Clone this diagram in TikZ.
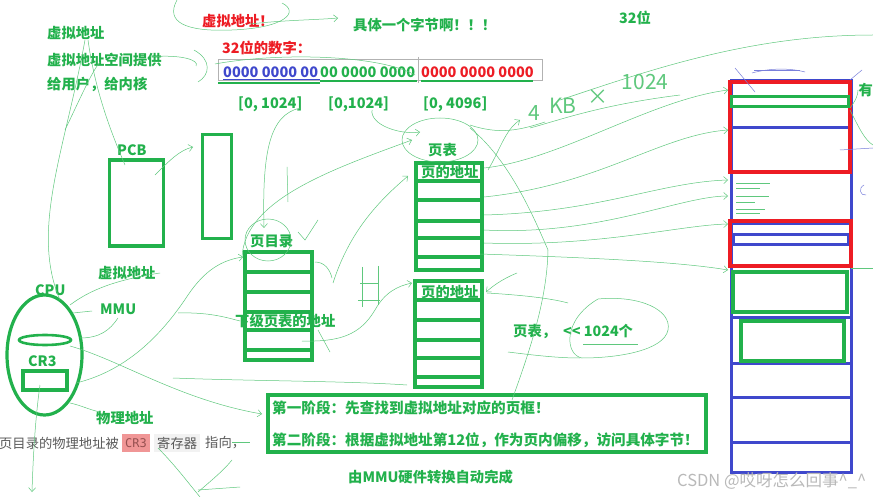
\documentclass[tikz,border=0pt]{standalone}
\usepackage{fontspec}
\setmainfont{Noto Sans CJK SC}
\newfontfamily\cjk{Noto Sans CJK SC}
\newfontfamily\monof{DejaVu Sans Mono}
\usetikzlibrary{arrows.meta}
\definecolor{pg}{RGB}{34,177,76}
\definecolor{pr}{RGB}{237,28,36}
\definecolor{pb}{RGB}{63,72,204}
\definecolor{sg}{RGB}{95,200,125}
\definecolor{wm}{RGB}{185,185,185}
\definecolor{gtx}{RGB}{90,90,90}
\definecolor{crbg}{RGB}{240,150,150}
\definecolor{crtx}{RGB}{150,80,80}
\definecolor{rgbg}{RGB}{242,242,242}
\newcommand\myfb{\cjk\bfseries\fontsize{14.3}{16}\selectfont}
\newcommand\myfd{\cjk\bfseries\fontsize{14.5}{17}\selectfont}
\newcommand\myfs{\cjk\bfseries\fontsize{14.6}{17}\selectfont}
\newcommand\myfh{\cjk\fontsize{21}{23}\selectfont}
\begin{document}
\begin{tikzpicture}[x=1pt,y=-1pt,
  lbl/.style={font=\myfb, text=pg, inner sep=0pt, anchor=west},
  rlbl/.style={lbl, text=pr},
  dig/.style={font=\myfd, inner sep=0pt, anchor=west},
  gbox/.style={draw=pg, line width=3.5pt, inner sep=0pt, outer sep=0pt},
  gline/.style={draw=pg, line width=3.2pt},
  bline/.style={draw=pb, line width=3pt},
  scrib/.style={draw=sg, line width=0.5pt},
  sarr/.style={scrib, -{Straight Barb[length=4pt,width=7pt]}},
  hand/.style={font=\myfh, text=sg, inner sep=0pt},
  bscrib/.style={draw=pb!70, line width=0.5pt}]
\useasboundingbox (0,0) rectangle (873,497);
\clip (0,0) rectangle (873,497);
\fill[white] (0,0) rectangle (873,497);

% ---------- top texts ----------
\node[lbl] (va1) at (47,33) {虚拟地址};
\node[lbl] (va2) at (47,60) {虚拟地址空间提供};
\node[lbl] (va3) at (47,84) {给用户，给内核};
\node[rlbl] (vared) at (202,21) {虚拟地址！};
\node[lbl] (byte) at (353,25) {具体一个字节啊！！！};
\node[lbl] (b32) at (619,18) {32位};
\node[rlbl] (num32) at (222,48) {32位的数字：};

% address box
\draw[draw=gray!60, line width=0.6pt] (218,59) rectangle (542,80);
\draw[draw=gray!60, line width=0.6pt] (418,57) -- (418,83);
\node[dig, text=pb] (d1) at (223,72) {0000 0000 00};
\node[dig, text=pg] (d2) at (320,72) {00 0000 0000};
\node[dig, text=pr] (d3) at (421,72) {0000 0000 0000};
\draw[pb, line width=1pt] (223,80) -- (320,80);
\draw[pg, line width=2.2pt] (218,83) -- (320,83);
\draw[pg, line width=2.2pt] (320,81) -- (417,81);
\draw[pg, line width=2.2pt] (421,81) -- (533,81);
\node[dig, text=pg] (r1) at (238,104) {[0, 1024]};
\node[dig, text=pg] (r2) at (328,104) {[0,1024]};
\node[dig, text=pg] (r3) at (423,104) {[0, 4096]};

% ---------- PCB ----------
\node[lbl] (pcbl) at (117,150) {PCB};
\node[gbox, minimum width=54pt, minimum height=86pt] (pcb) at (136.5,203) {};
\node[gbox, minimum width=29pt, minimum height=104pt] (tall) at (217,186.5) {};

% ---------- page directory ----------
\node[lbl] (pdl) at (250,241) {页目录};
\node[gbox, minimum width=67pt, minimum height=108pt] (pd) at (278.5,306) {};
\foreach \yy in {272,292,312,330,350} \draw[gline] (245,\yy) -- (312,\yy);
\node[lbl] (nextpt) at (235,321) {下级页表的地址};

% ---------- page tables ----------
\node[lbl] (ptl) at (428,150) {页表};
\node[gbox, minimum width=66pt, minimum height=107pt] (pt1) at (449,216.5) {};
\foreach \yy in {181,200,221,238,257} \draw[gline] (416,\yy) -- (482,\yy);
\node[lbl] (pt1h) at (421,172) {页的地址};
\node[gbox, minimum width=67pt, minimum height=106pt] (pt2) at (448.5,334) {};
\foreach \yy in {300,320,340,358,377} \draw[gline] (415,\yy) -- (482,\yy);
\node[lbl] (pt2h) at (421,292) {页的地址};
\node[lbl] (ptc1) at (513,331) {页表，};
\node[lbl] (ptc2) at (563,331) {<< 1024个};

% ---------- bottom box ----------
\node[gbox, minimum width=438pt, minimum height=57pt] (stage) at (487,423.5) {};
\node[lbl, font=\myfs] (s1) at (272,408) {第一阶段：先查找到虚拟地址对应的页框！};
\node[lbl, font=\myfs] (s2) at (272,440) {第二阶段：根据虚拟地址第12位，作为页内偏移，访问具体字节！};
\node[lbl] (mmuauto) at (348,477) {由MMU硬件转换自动完成};

% ---------- CPU ----------
\node[lbl] (cpul) at (35,290) {CPU};
\draw[pg, line width=3.2pt] (44.5,355) ellipse [x radius=37.5, y radius=60];
\draw[pg, line width=2.6pt] (45,340) ellipse [x radius=26, y radius=5];
\node[lbl] (cr3l) at (28,361) {CR3};
\node[gbox, minimum width=44pt, minimum height=19pt] (cr3) at (45,380.5) {};
\node[lbl] (val) at (98,273) {虚拟地址};
\node[lbl] (mmul) at (100,309) {MMU};
\node[lbl] (pal) at (96,418) {物理地址};

% gray sentence
\node[font=\cjk\fontsize{13.3}{15}\selectfont, text=gtx, inner sep=0pt, anchor=west] (gs1) at (-1,443) {页目录的物理地址被};
\node[fill=crbg, text=crtx, font=\monof\fontsize{12}{14}\selectfont, inner xsep=3pt, inner ysep=4pt, anchor=west] (crhl) at (122,443) {CR3};
\node[fill=rgbg, text=gtx, font=\cjk\fontsize{13.3}{15}\selectfont, inner xsep=3pt, inner ysep=3pt, anchor=west] (reg) at (154,443) {寄存器};
\node[font=\cjk\fontsize{13.3}{15}\selectfont, text=gtx, inner sep=0pt, anchor=west] (gs2) at (205,443) {指向，};

% ---------- memory ----------
\node[draw=pb, line width=3pt, minimum width=120pt, minimum height=391pt, inner sep=0pt] (mem) at (791,276.5) {};
\foreach \yy in {128,173,317,363,397,442} \draw[bline] (731,\yy) -- (851,\yy);
\draw[pb, line width=1.8pt] (732,224) -- (849,224);
\draw[bline] (733,235) rectangle (848,245);
\draw[pr, line width=3.5pt] (730,82) rectangle (850,172);
\draw[pg, line width=3pt] (731,97) rectangle (848,107);
\draw[pr, line width=3.5pt] (730,221) rectangle (851,266);
\draw[pg, line width=3.2pt] (733,272) rectangle (847,312);
\draw[pg, line width=3.2pt] (741,321) rectangle (844,361);
\foreach \ya/\xb in {183/770,188/760,196/769,202/755,209/765,213/760} \draw[scrib, line width=0.7pt] (736,\ya) -- (\xb,\ya);
\node[lbl, anchor=east] (you) at (873,90) {有};
\node[font=\cjk\fontsize{16.5}{18}\selectfont, text=wm, inner sep=0pt, anchor=west] (wmk) at (677,481) {CSDN @哎呀怎么回事\^{}\_\^{}};

% blue scribbles near memory
\draw[bscrib] (735,68) -- (755,92);
\draw[bscrib] (752,73) .. controls (770,68) and (790,68) .. (805,72);
\draw[bscrib] (754,70) -- (800,70);
\draw[bscrib] (850,80) -- (862,70);
\draw[bscrib] (840,150) -- (873,148);
\draw[bscrib] (864,185) .. controls (858,188) and (860,196) .. (866,195);

% ---------- hand-drawn scribbles ----------
\draw[scrib] (177,0) .. controls (165,22) and (185,32) .. (232,30) .. controls (285,28) and (300,12) .. (282,3);
\draw[sarr] (250,24) .. controls (285,20) and (315,20) .. (338,18);
\draw[scrib] (150,57) .. controls (180,54) and (200,60) .. (196,66);
\draw[scrib] (194,50) .. controls (212,60) and (210,75) .. (198,82);
\draw[scrib] (215,64) .. controls (280,52) and (380,55) .. (415,75);
\draw[scrib] (85,40) .. controls (65,150) and (30,230) .. (60,300);
\draw[scrib] (88,40) .. controls (95,90) and (110,130) .. (125,165);
\draw[scrib] (100,62) .. controls (92,72) and (85,88) .. (65,130);
\draw[sarr] (155,175) .. controls (170,160) and (180,150) .. (193,147);
\draw[sarr] (300,108) .. controls (270,115) and (262,150) .. (264,228);
\draw[scrib] (268,240) ellipse [x radius=23, y radius=21];
\draw[sarr] (242,257) .. controls (245,200) and (330,170) .. (412,140);
\draw[scrib] (440,140) ellipse [x radius=38, y radius=22];
\draw[sarr] (372,110) .. controls (370,125) and (400,135) .. (420,132);
\draw[sarr] (302,341) .. controls (340,342) and (360,335) .. (375,310) .. controls (385,292) and (398,286) .. (412,283);
\draw[sarr] (333,283) .. controls (350,230) and (380,200) .. (408,176);
\draw[sarr] (76,383) .. controls (130,370) and (165,330) .. (188,295) .. controls (205,270) and (222,260) .. (243,257);
\draw[sarr] (70,346) .. controls (120,360) and (180,400) .. (262,414);
\draw[scrib] (70,305) .. controls (90,290) and (115,280) .. (160,273);
\draw[scrib] (73,313) -- (92,311);
\draw[scrib] (80,338) .. controls (100,338) and (110,330) .. (118,318);
\draw[scrib] (70,403) .. controls (80,405) and (90,410) .. (100,412);
\draw[sarr] (40,385) .. controls (35,420) and (33,460) .. (32,492);
\draw[scrib] (158,448) .. controls (175,465) and (190,485) .. (200,497);
\draw[scrib] (198,492) .. controls (212,480) and (224,470) .. (232,460);
\draw[scrib] (198,490) -- (240,487);
\draw[scrib] (232,442) -- (250,442);
\draw[scrib] (287,167) -- (288,202);
\draw[scrib] (298,232) -- (305,240) -- (318,220);
\draw[scrib] (362,267) -- (362,307) (378,266) -- (378,305) (360,283) -- (378,283) (358,300) -- (380,300);
\draw[scrib] (178,313) .. controls (210,312) and (228,318) .. (240,321);
\draw[scrib] (173,378) .. controls (250,381) and (350,381) .. (407,385);
\draw[scrib] (315,262) .. controls (325,262) and (330,270) .. (332,278);
\draw[scrib] (318,330) -- (330,352);
% right-hand arrows to memory
\draw[sarr] (484,168) .. controls (560,160) and (650,100) .. (728,90);
\draw[sarr] (484,197) .. controls (600,185) and (660,135) .. (728,130);
\draw[sarr] (484,215) .. controls (600,212) and (660,182) .. (728,180);
\draw[sarr] (484,230) .. controls (600,236) and (680,196) .. (728,196);
\draw[sarr] (484,243) .. controls (600,247) and (680,225) .. (728,224);
\draw[sarr] (480,254) .. controls (600,258) and (680,262) .. (728,270);
\draw[sarr] (517,273) .. controls (500,280) and (492,287) .. (486,292);
\draw[scrib] (487,293) .. controls (520,295) and (550,298) .. (568,303);
\draw[scrib] (548,250) .. controls (547,300) and (530,350) .. (512,400);
\draw[scrib] (598,299) .. controls (640,295) and (672,310) .. (668,330) .. controls (664,350) and (620,358) .. (582,358) .. controls (565,355) and (562,320) .. (598,299);
\draw[scrib] (508,352) .. controls (540,356) and (560,358) .. (580,358);
\draw[scrib] (583,344) -- (638,344);
\draw[scrib] (560,100) .. controls (650,70) and (750,35) .. (873,35);
\draw[scrib] (470,125) .. controls (500,135) and (520,130) .. (545,122);
\draw[scrib] (470,128) .. controls (510,160) and (535,220) .. (548,250);
\draw[sarr] (488,170) .. controls (500,150) and (505,130) .. (520,120);
\draw[scrib] (530,128) .. controls (560,120) and (600,105) .. (680,95);
\draw[scrib] (850,108) .. controls (856,100) and (858,95) .. (858,90);
\draw[scrib] (850,110) .. controls (860,130) and (865,140) .. (873,145);
\draw[scrib] (851,268) -- (873,268);
% handwritten 4KB x 1024
\node[hand] (hk4) at (534,113) {4};
\node[hand] (hkb) at (563,106) {KB};
\node[hand] (hkx) at (598,97) {×};
\node[hand] (hk1024) at (645,82) {1024};
\end{tikzpicture}
\end{document}
